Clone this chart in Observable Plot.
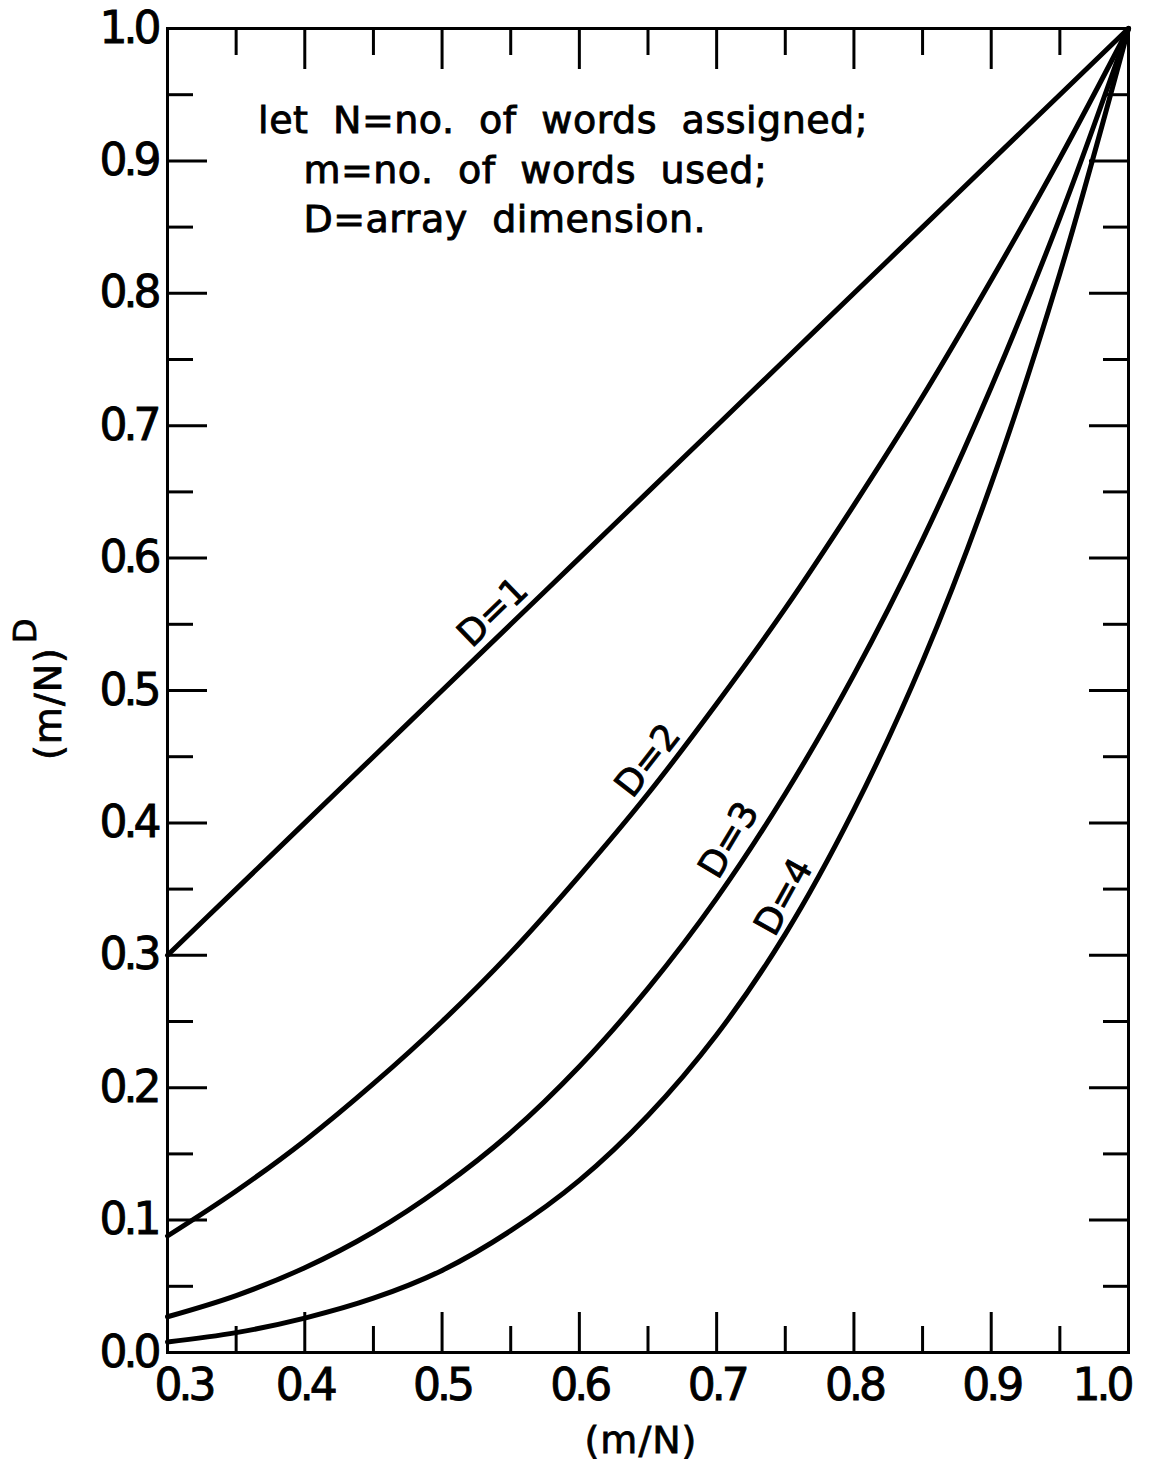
<!DOCTYPE html>
<html><head><meta charset="utf-8">
<script src="https://cdn.jsdelivr.net/npm/d3@7"></script>
<script src="https://cdn.jsdelivr.net/npm/@observablehq/plot@0.6"></script>
<style>
body{margin:0;background:#fff}
#chart svg{display:block}
.ticklab text{letter-spacing:-4px;stroke:#000;stroke-width:0.9px}
.lab text{letter-spacing:0px;stroke:#000;stroke-width:0.9px}
.note text{letter-spacing:0.5px;word-spacing:12px;stroke:#000;stroke-width:0.9px}
.ttl text{letter-spacing:1px;stroke:#000;stroke-width:0.8px}
</style></head><body><div id="chart"></div>
<script>
// ratio m/N
const xValues = [0.30, 0.35, 0.40, 0.45, 0.50, 0.55, 0.60, 0.65, 0.70, 0.75, 0.80, 0.85, 0.90, 0.95, 1.00];
// (m/N)^D
const dim1 = [0.300, 0.350, 0.400, 0.450, 0.500, 0.550, 0.600, 0.650, 0.700, 0.750, 0.800, 0.850, 0.900, 0.950, 1.000];
const dim2 = [0.088, 0.122, 0.160, 0.203, 0.250, 0.302, 0.360, 0.422, 0.490, 0.562, 0.640, 0.722, 0.810, 0.902, 1.000];
const dim3 = [0.027, 0.043, 0.064, 0.091, 0.125, 0.166, 0.216, 0.275, 0.343, 0.422, 0.512, 0.614, 0.729, 0.857, 1.000];
const dim4 = [0.008, 0.015, 0.026, 0.041, 0.062, 0.092, 0.130, 0.179, 0.240, 0.316, 0.410, 0.522, 0.656, 0.815, 1.000];

const xMajor = [0.3, 0.4, 0.5, 0.6, 0.7, 0.8, 0.9, 1.0];
const xMinor = [0.35, 0.45, 0.55, 0.65, 0.75, 0.85, 0.95];
const yMajor = [0.0, 0.1, 0.2, 0.3, 0.4, 0.5, 0.6, 0.7, 0.8, 0.9, 1.0];
const yMinor = [0.05, 0.15, 0.25, 0.35, 0.45, 0.55, 0.65, 0.75, 0.85, 0.95];

const curveLabels = [
  {text: "D=1", x: 0.537, y: 0.559, angle: -44},
  {text: "D=2", x: 0.650, y: 0.447, angle: -52},
  {text: "D=3", x: 0.709, y: 0.387, angle: -59},
  {text: "D=4", x: 0.749, y: 0.344, angle: -61}
];
const notes = [
  {text: "let N=no. of words assigned;", x: 0.366, y: 0.921},
  {text: "m=no. of words used;", x: 0.399, y: 0.883},
  {text: "D=array dimension.", x: 0.399, y: 0.846}
];
const xTitle = "(m/N)";
const yTitle = "(m/N)";
const yTitleSup = "D";

const series = [dim1, dim2, dim3, dim4];
const rows = series.flatMap((s, k) => s.map((v, i) => ({x: xValues[i], y: v, D: k + 1})));
const fmt = d => d.toFixed(1);
const F = "DejaVu Sans";

const chart = Plot.plot({
  width: 1156, height: 1464,
  marginLeft: 167, marginRight: 28, marginTop: 28, marginBottom: 112,
  x: {domain: [0.3, 1.0]},
  y: {domain: [0, 1]},
  style: {fontFamily: F, background: "#fff", color: "#000"},
  marks: [
    // inward ticks
    Plot.axisX(xMajor, {anchor: "bottom", tickSize: -40, tickFormat: () => "", strokeWidth: 3, label: null}),
    Plot.axisX(xMinor, {anchor: "bottom", tickSize: -26, tickFormat: () => "", strokeWidth: 3, label: null}),
    Plot.axisX(xMajor, {anchor: "top", tickSize: -40, tickFormat: () => "", strokeWidth: 3, label: null}),
    Plot.axisX(xMinor, {anchor: "top", tickSize: -26, tickFormat: () => "", strokeWidth: 3, label: null}),
    Plot.axisY(yMajor, {anchor: "left", tickSize: -40, tickFormat: () => "", strokeWidth: 3, label: null}),
    Plot.axisY(yMinor, {anchor: "left", tickSize: -26, tickFormat: () => "", strokeWidth: 3, label: null}),
    Plot.axisY(yMajor, {anchor: "right", tickSize: -40, tickFormat: () => "", strokeWidth: 3, label: null}),
    Plot.axisY(yMinor, {anchor: "right", tickSize: -26, tickFormat: () => "", strokeWidth: 3, label: null}),
    // tick labels
    Plot.axisX(xMajor.slice(1, -1), {anchor: "bottom", tickSize: 0, tickPadding: 16, fontSize: 44, tickFormat: fmt, label: null, className: "ticklab"}),
    Plot.axisX(xMajor.slice(0, 1), {anchor: "bottom", tickSize: 0, tickPadding: 16, fontSize: 44, tickFormat: fmt, label: null, dx: 16, className: "ticklab"}),
    Plot.axisX(xMajor.slice(-1), {anchor: "bottom", tickSize: 0, tickPadding: 16, fontSize: 44, tickFormat: fmt, label: null, dx: -27, className: "ticklab"}),
    Plot.axisY(yMajor, {anchor: "left", tickSize: 0, tickPadding: 10, fontSize: 44, tickFormat: fmt, label: null, className: "ticklab"}),
    Plot.frame({strokeWidth: 3}),
    Plot.line(rows, {x: "x", y: "y", z: "D", stroke: "#000", strokeWidth: 5, curve: "catmull-rom"}),
    Plot.text(curveLabels, {x: "x", y: "y", text: "text", rotate: "angle", fontSize: 36, textAnchor: "middle", lineAnchor: "middle", className: "lab"}),
    Plot.text(notes, {x: "x", y: "y", text: "text", fontSize: 38, textAnchor: "start", lineAnchor: "bottom", className: "note"}),
    Plot.text([xTitle], {frameAnchor: "bottom", text: d => d, dx: -7, dy: 88, fontSize: 38, textAnchor: "middle", lineAnchor: "middle", className: "ttl"}),
    Plot.text([yTitle], {frameAnchor: "left", text: d => d, dx: -119, dy: 13, rotate: -90, fontSize: 38, textAnchor: "middle", lineAnchor: "middle", className: "ttl"}),
    Plot.text([yTitleSup], {frameAnchor: "left", text: d => d, dx: -142, dy: -60, rotate: -90, fontSize: 32, textAnchor: "middle", lineAnchor: "middle", className: "ttl"})
  ]
});
document.getElementById("chart").append(chart);
</script></body></html>
